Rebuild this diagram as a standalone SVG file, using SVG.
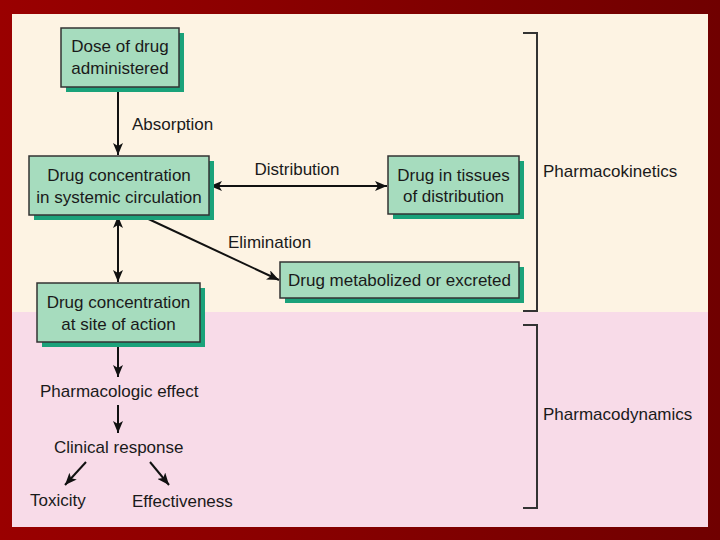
<svg xmlns="http://www.w3.org/2000/svg" width="720" height="540" viewBox="0 0 720 540">
<defs>
<linearGradient id="bg" x1="0" y1="0" x2="1" y2="0">
<stop offset="0" stop-color="#9a0000"/>
<stop offset="1" stop-color="#700000"/>
</linearGradient>
<marker id="ah" viewBox="0 0 12 10" refX="12" refY="5" markerWidth="12" markerHeight="10" markerUnits="userSpaceOnUse" orient="auto-start-reverse">
<path d="M0,0 L12,5 L0,10 L3,5 Z" fill="#111"/>
</marker>
<style>
text{font-family:"Liberation Sans",Arial,sans-serif;font-size:17px;fill:#1a1a1a}
.c{text-anchor:middle}
.box{fill:#a6dcbe;stroke:#333;stroke-width:1.5}
.sh{fill:#1aa27a}
.ln{stroke:#111;stroke-width:2;fill:none}
.br{stroke:#333;stroke-width:2;fill:none}
</style>
</defs>
<rect width="720" height="540" fill="url(#bg)"/>
<rect x="12" y="14" width="696" height="298" fill="#fdf3e3"/>
<rect x="12" y="312" width="696" height="215" fill="#f8dbe8"/>

<g id="connectors">
<line class="ln" x1="118" y1="88" x2="118" y2="155" marker-end="url(#ah)"/>
<line class="ln" x1="210" y1="186" x2="387" y2="186" marker-start="url(#ah)" marker-end="url(#ah)"/>
<line class="ln" x1="142" y1="216" x2="279" y2="280" marker-end="url(#ah)"/>
<line class="ln" x1="118" y1="216" x2="118" y2="282" marker-start="url(#ah)" marker-end="url(#ah)"/>
<line class="ln" x1="118" y1="343" x2="118" y2="377" marker-end="url(#ah)"/>
<line class="ln" x1="118" y1="405" x2="118" y2="433" marker-end="url(#ah)"/>
<line class="ln" x1="86" y1="462" x2="65" y2="485" marker-end="url(#ah)"/>
<line class="ln" x1="150" y1="462" x2="169" y2="485" marker-end="url(#ah)"/>
<text x="132" y="130">Absorption</text>
<text class="c" x="297" y="175">Distribution</text>
<text x="228" y="248">Elimination</text>
</g>

<g id="dose">
<rect class="sh" x="66" y="33" width="118" height="59"/>
<rect class="box" x="61" y="28" width="118" height="59"/>
<text class="c" x="120" y="52">Dose of drug</text>
<text class="c" x="120" y="74">administered</text>
</g>
<g id="systemic">
<rect class="sh" x="34" y="161" width="180" height="59"/>
<rect class="box" x="29" y="156" width="180" height="59"/>
<text class="c" x="119" y="181">Drug concentration</text>
<text class="c" x="119" y="203">in systemic circulation</text>
</g>
<g id="tissues">
<rect class="sh" x="393" y="161" width="131" height="58"/>
<rect class="box" x="388" y="156" width="131" height="58"/>
<text class="c" x="453.5" y="181">Drug in tissues</text>
<text class="c" x="453.5" y="202">of distribution</text>
</g>
<g id="metabolized">
<rect class="sh" x="285" y="267" width="239" height="36"/>
<rect class="box" x="280" y="262" width="239" height="36"/>
<text class="c" x="399.5" y="286">Drug metabolized or excreted</text>
</g>
<g id="site">
<rect class="sh" x="42" y="288" width="163" height="59"/>
<rect class="box" x="37" y="283" width="163" height="59"/>
<text class="c" x="118.5" y="308">Drug concentration</text>
<text class="c" x="118.5" y="330">at site of action</text>
</g>
<g id="effect"><text x="40" y="397">Pharmacologic effect</text></g>
<g id="clinical"><text x="54" y="453">Clinical response</text></g>
<g id="toxicity"><text x="30" y="506">Toxicity</text></g>
<g id="effectiveness"><text x="132" y="507">Effectiveness</text></g>

<g id="pk">
<path class="br" d="M523,33 H537 V311 H523"/>
<text x="543" y="177">Pharmacokinetics</text>
</g>
<g id="pd">
<path class="br" d="M523,325 H537 V508 H523" stroke="#5a4a58"/>
<text x="543" y="420">Pharmacodynamics</text>
</g>
</svg>
